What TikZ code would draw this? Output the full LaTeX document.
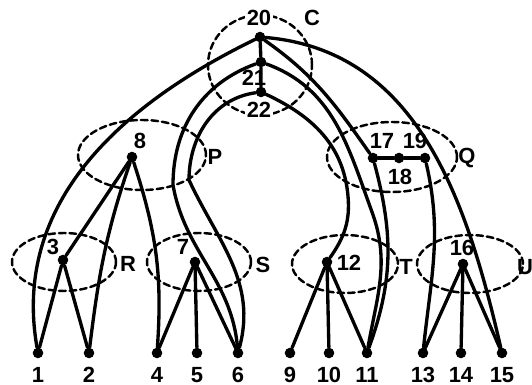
\documentclass[tikz,border=0pt]{standalone}
\usepackage{fontspec}
\setmainfont{Liberation Sans}
\begin{document}
\begin{tikzpicture}[x=0.02cm, y=0.02cm, line join=round, line cap=round,
		vert/.style={circle, fill=black, inner sep=0pt, minimum size=6pt},
		lbl/.style={font=\fontsize{12.5}{14}\selectfont\bfseries, inner sep=1pt},
		clus/.style={line width=1.4pt, dash pattern=on 3.8pt off 2.2pt},
		edge/.style={line width=1.9pt}]
	\useasboundingbox (0,0) rectangle (532,-385);
	% --- Cụm nét đứt ---
	\draw[clus] (260,-65) ellipse (52 and 50);
	\draw[clus] (142,-155) ellipse (64 and 35);
	\draw[clus] (392,-157) ellipse (65 and 35);
	\draw[clus] (64,-262) ellipse (52 and 29);
	\draw[clus] (199,-262) ellipse (52 and 29);
	\draw[clus] (345,-264) ellipse (53 and 29);
	\draw[clus] (470,-264) ellipse (53 and 29);
	\node[lbl] (cC) at (312,-18) {C};
	\node[lbl] (cP) at (215,-157) {P};
	\node[lbl] (cQ) at (467,-158) {Q};
	\node[lbl] (cR) at (128,-264) {R};
	\node[lbl] (cS) at (263,-265) {S};
	\node[lbl] (cT) at (406,-267) {T};
	\node[lbl] (cU) at (525,-267) {U};
	% --- Đỉnh lá ---
	\foreach \n/\x in {1/38, 2/89, 4/157, 5/197, 6/238, 9/290, 10/329, 11/367, 13/423, 14/461, 15/502} {
		\node[vert] (n\n) at (\x,-353) {};
		\node[lbl] (l\n) at (\x,-375) {\n};
	}
	% --- Đỉnh trong ---
	\node[vert] (n20) at (260,-37) {};
	\node[vert] (n21) at (261,-62) {};
	\node[vert] (n22) at (261,-92) {};
	\node[vert] (n8) at (132,-157) {};
	\node[vert] (n17) at (373,-158) {};
	\node[vert] (n18) at (399,-158) {};
	\node[vert] (n19) at (425,-158) {};
	\node[vert] (n3) at (63,-260) {};
	\node[vert] (n7) at (195,-262) {};
	\node[vert] (n12) at (327,-262) {};
	\node[vert] (n16) at (463,-264) {};
	\node[lbl, fill=white] (l20) at (259,-18) {20};
	\node[lbl] (l21) at (254,-78) {21};
	\node[lbl, fill=white] (l22) at (259,-110) {22};
	\node[lbl] (l8) at (140,-141) {8};
	\node[lbl] (l17) at (382,-141) {17};
	\node[lbl] (l19) at (415,-141) {19};
	\node[lbl] (l18) at (400,-177) {18};
	\node[lbl] (l3) at (53,-247) {3};
	\node[lbl] (l7) at (183,-247) {7};
	\node[lbl] (l12) at (349,-263) {12};
	\node[lbl] (l16) at (462,-248) {16};
	% --- Cạnh từ cụm C ---
	\draw[edge] (n20) -- (n21) -- (n22);
	\draw[edge] (n20) to[out=206, in=100] (n1);
	\draw[edge] (n20) to[out=-5, in=103] (n15);
	\draw[edge] (n20) to[out=-35, in=125] (n17);
	\draw[edge] (n21) to[out=200, in=90] (173,-185) to[out=-80, in=95] (n6);
	\draw[edge] (n22) to[out=188, in=90] (189,-180) to[out=-65, in=75] (n6);
	\draw[edge] (n21) to[out=-20, in=110] (372,-212) to[out=-70, in=80] (n11);
	\draw[edge] (n22) to[out=-25, in=95] (348,-196) to[out=-85, in=55] (n12);
	% --- Cạnh từ P và Q ---
	\draw[edge] (n8) -- (n3);
	\draw[edge] (n8) to[out=-109, in=83] (n2);
	\draw[edge] (n8) to[out=-72, in=86] (n4);
	\draw[edge] (n17) -- (n18) -- (n19);
	\draw[edge] (n17) to[out=-75, in=70] (n11);
	\draw[edge] (n19) to[out=-77, in=84] (n13);
	% --- Cạnh xuống lá ---
	\foreach \a/\b in {3/1, 3/2, 7/4, 7/5, 7/6, 12/9, 12/10, 12/11, 16/13, 16/14, 16/15}
		\draw[edge] (n\a) -- (n\b);
\end{tikzpicture}
\end{document}
